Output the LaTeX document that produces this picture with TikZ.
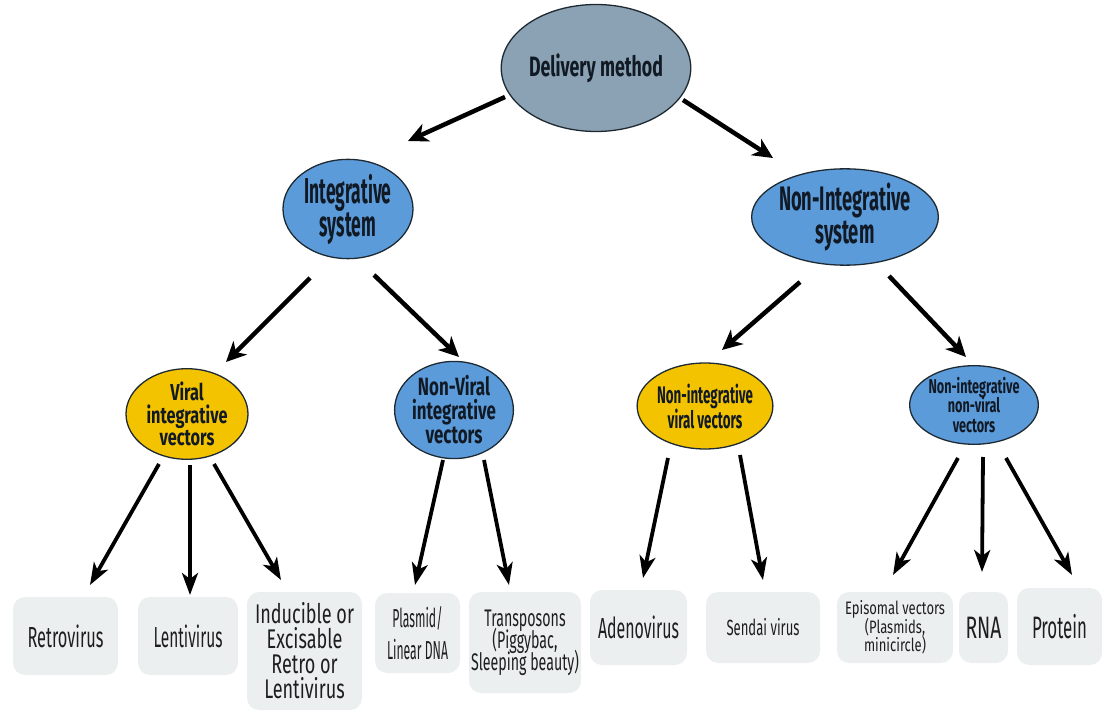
\documentclass[tikz,border=0pt]{standalone}
\usepackage{fontspec}
\setmainfont{Fira Sans}
\usetikzlibrary{arrows.meta,shapes.geometric}

\definecolor{dmfill}{HTML}{8AA2B3}
\definecolor{bluefill}{HTML}{5C9BDA}
\definecolor{yellowfill}{HTML}{F4C300}
\definecolor{edge}{HTML}{1E2A33}
\definecolor{ink}{HTML}{111A24}
\definecolor{boxfill}{HTML}{ECEFF0}
\definecolor{boxink}{HTML}{1E1E1E}

% \lbl{size}{leading}{width of widest line}{lines separated by \cr}
% sets centred lines and squeezes them horizontally to the given width
\newsavebox\lblbox
\newcommand\lbl[4]{%
  \sbox\lblbox{\fontsize{#1}{#2}\selectfont
    \vbox{\lineskiplimit=-\maxdimen\halign{\hfil##\hfil\cr#4\crcr}}}%
  \scalebox{\fpeval{#3/(\the\wd\lblbox)}}[1]{\usebox\lblbox}}

\tikzset{
  ell/.style={ellipse, draw=edge, line width=1.3pt, inner sep=0pt,
    text=ink, font=\bfseries},
  boxn/.style={rounded corners=12pt, fill=boxfill, inner sep=0pt,
    text=boxink},
  arrbig/.style={line width=4.5pt, -{Stealth[length=20pt,width=19pt,inset=6pt]}},
  arrsmall/.style={line width=3.8pt, -{Stealth[length=22pt,width=16pt,inset=6pt]}},
}

\begin{document}
\begin{tikzpicture}[x=1pt,y=-1pt]
\useasboundingbox (0,0) rectangle (1104,711);

% ---- ellipses ----
\node[ell, fill=dmfill, minimum width=157pt, minimum height=127pt] (dm) at (596,68)
  {\lbl{28}{28}{134}{Delivery method}};
\node[ell, fill=bluefill, minimum width=130pt, minimum height=92pt] (is) at (348,209)
  {\lbl{36}{33}{87}{Integrative\cr system}};
\node[ell, fill=bluefill, minimum width=144pt, minimum height=96pt] (nis) at (845,217)
  {\lbl{34}{33}{132}{Non-Integrative\cr system}};
\node[ell, fill=yellowfill, minimum width=122pt, minimum height=82pt] (viv) at (187,414)
  {\lbl{23}{22.5}{81}{Viral\cr integrative\cr vectors}};
\node[ell, fill=bluefill, minimum width=102pt, minimum height=86pt] (nviv) at (454,410)
  {\lbl{25}{24}{84}{Non-Viral\cr integrative\cr vectors}};
\node[ell, fill=yellowfill, minimum width=114pt, minimum height=86pt] (niv) at (705,406)
  {\lbl{24}{25}{96}{Non-integrative\cr viral vectors}};
\node[ell, fill=bluefill, minimum width=118pt, minimum height=76pt] (ninv) at (974,405)
  {\lbl{20}{19.5}{91}{Non-integrative\cr non-viral\cr vectors}};

% ---- leaf boxes ----
\node[boxn, minimum width=105pt, minimum height=78pt] (retro) at (65.5,636)
  {\lbl{29}{29}{76}{Retrovirus}};
\node[boxn, minimum width=100pt, minimum height=78pt] (lenti) at (188,636)
  {\lbl{29}{29}{69}{Lentivirus}};
\node[boxn, minimum width=115pt, minimum height=118pt] (induc) at (304.5,651)
  {\lbl{27}{25}{99}{Inducible or\cr Excisable\cr Retro or\cr Lentivirus}};
\node[boxn, minimum width=85pt, minimum height=80pt] (plasmid) at (417.5,633)
  {\lbl{26}{32}{61}{Plasmid/\cr Linear DNA}};
\node[boxn, minimum width=112pt, minimum height=101pt] (transp) at (525,642.5)
  {\lbl{24}{22}{108}{Transposons\cr (Piggybac,\cr Sleeping beauty)}};
\node[boxn, minimum width=97pt, minimum height=75pt] (adeno) at (638.5,627.5)
  {\lbl{29}{29}{81}{Adenovirus}};
\node[boxn, minimum width=114pt, minimum height=71pt] (sendai) at (763,627.5)
  {\lbl{22}{22}{73}{Sendai virus}};
\node[boxn, minimum width=116pt, minimum height=71pt] (episomal) at (895,627.5)
  {\lbl{18}{18.5}{100}{Episomal vectors\cr (Plasmids,\cr minicircle)}};
\node[boxn, minimum width=49pt, minimum height=71pt] (rna) at (983.5,627.5)
  {\lbl{31}{31}{36}{RNA}};
\node[boxn, minimum width=85pt, minimum height=77pt] (protein) at (1059.5,626.5)
  {\lbl{31}{31}{55}{Protein}};

% ---- arrow end points ----
\coordinate (dm-l) at (505,97);   \coordinate (is-t) at (408,141);
\coordinate (dm-r) at (683,100);  \coordinate (nis-t) at (773,158);
\coordinate (is-l) at (310,278);  \coordinate (viv-t) at (226,362);
\coordinate (is-r) at (374,275);  \coordinate (nviv-t) at (459,357);
\coordinate (nis-l) at (800,282); \coordinate (niv-t) at (722,350);
\coordinate (nis-r) at (889,276); \coordinate (ninv-t) at (966,357);
\coordinate (viv-1) at (159,464); \coordinate (retro-t) at (90,585);
\coordinate (viv-2) at (190,465); \coordinate (lenti-t) at (190,595);
\coordinate (viv-3) at (214,464); \coordinate (induc-t) at (281,580);
\coordinate (nviv-1) at (443,460); \coordinate (plasmid-t) at (415,585);
\coordinate (nviv-2) at (484,460); \coordinate (transp-t) at (509,585);
\coordinate (niv-1) at (668,458); \coordinate (adeno-t) at (643,578);
\coordinate (niv-2) at (740,455); \coordinate (sendai-t) at (763,580);
\coordinate (ninv-1) at (958,458); \coordinate (episomal-t) at (893,575);
\coordinate (ninv-2) at (983,457); \coordinate (rna-t) at (982,572);
\coordinate (ninv-3) at (1006,458); \coordinate (protein-t) at (1072,575);

% ---- arrows ----
\draw[arrbig] (dm-l) -- (is-t);
\draw[arrbig] (dm-r) -- (nis-t);
\draw[arrbig] (is-l) -- (viv-t);
\draw[arrbig] (is-r) -- (nviv-t);
\draw[arrbig] (nis-l) -- (niv-t);
\draw[arrbig] (nis-r) -- (ninv-t);
\draw[arrsmall] (viv-1) -- (retro-t);
\draw[arrsmall] (viv-2) -- (lenti-t);
\draw[arrsmall] (viv-3) -- (induc-t);
\draw[arrsmall] (nviv-1) -- (plasmid-t);
\draw[arrsmall] (nviv-2) -- (transp-t);
\draw[arrsmall] (niv-1) -- (adeno-t);
\draw[arrsmall] (niv-2) -- (sendai-t);
\draw[arrsmall] (ninv-1) -- (episomal-t);
\draw[arrsmall] (ninv-2) -- (rna-t);
\draw[arrsmall] (ninv-3) -- (protein-t);
\end{tikzpicture}
\end{document}
